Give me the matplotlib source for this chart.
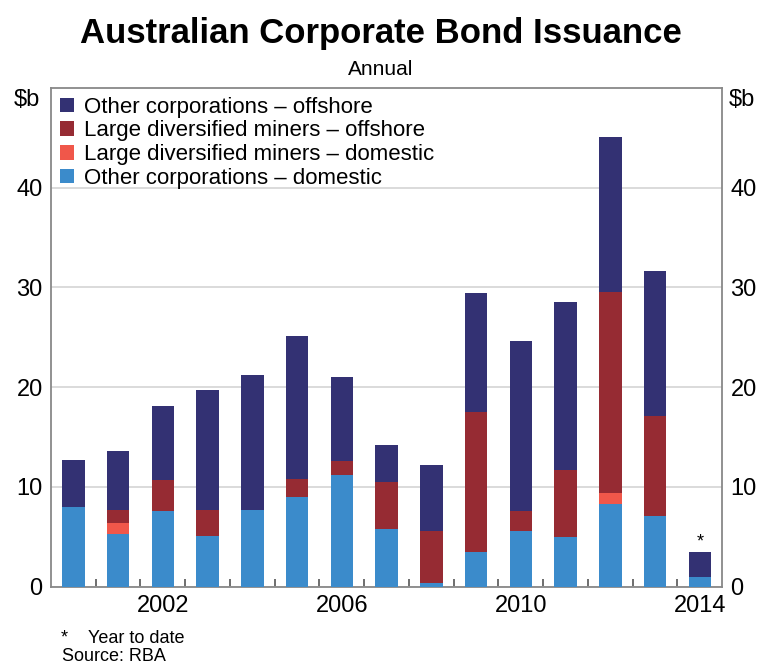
import numpy as np
import matplotlib
matplotlib.use("Agg")
import matplotlib.pyplot as plt
from matplotlib.ticker import FixedLocator, NullFormatter

plt.rcParams['font.family'] = ['Liberation Sans', 'DejaVu Sans']

years = list(range(2000, 2015))
other_dom = [8.0, 5.3, 7.6, 5.1, 7.7, 9.0, 11.2, 5.8, 0.4, 3.5, 5.6, 5.0, 8.3, 7.05, 1.0]
miners_dom = [0, 1.1, 0, 0, 0, 0, 0, 0, 0, 0, 0, 0, 1.05, 0, 0]
miners_off = [0, 1.3, 3.1, 2.6, 0, 1.8, 1.4, 4.7, 5.2, 14.0, 2.0, 6.75, 20.15, 10.05, 0]
other_off = [4.7, 5.9, 7.4, 12.0, 13.5, 14.3, 8.4, 3.7, 6.65, 11.9, 17.05, 16.75, 15.55, 14.5, 2.45]

series = [("Other corporations – domestic", other_dom, "#3b8bcb"),
          ("Large diversified miners – domestic", miners_dom, "#f0574a"),
          ("Large diversified miners – offshore", miners_off, "#962b33"),
          ("Other corporations – offshore", other_off, "#333173")]

fig = plt.figure(figsize=(7.61, 6.66), dpi=100)
ax = fig.add_axes([0.067, 0.119, 0.882, 0.749])
bottom = np.zeros(len(years))
handles = []
for lab, vals, col in series:
    h = ax.bar(years, vals, width=0.5, bottom=bottom, color=col, label=lab, zorder=3)
    handles.append(h)
    bottom += np.array(vals)

# year-to-date marker above the last bar
ax.text(2014, bottom[-1] + 0.2, "*", ha="center", va="bottom", fontsize=13)

ax.set_xlim(1999.5, 2014.5)
ax.set_ylim(0, 50)
ax.set_yticks([0, 10, 20, 30, 40])
ax.yaxis.grid(True, color="#d4d4d4", lw=1.2, zorder=0)
ax.tick_params(axis="y", length=0, labelsize=17, pad=6, left=True, right=True,
               labelleft=True, labelright=True)
ax.set_xticks([2002, 2006, 2010, 2014])
ax.tick_params(axis="x", which="major", length=0, labelsize=17, pad=6)
ax.xaxis.set_minor_locator(FixedLocator(np.arange(2000.5, 2014, 1)))
ax.xaxis.set_minor_formatter(NullFormatter())
ax.tick_params(axis="x", which="minor", direction="in", length=6, color="#555555", width=1.2)
for s in ax.spines.values():
    s.set_color("#888888")
    s.set_linewidth(1.3)

leg = ax.legend(handles[::-1], [s[0] for s in series][::-1], loc="upper left",
                frameon=False, fontsize=16, handlelength=0.65, handleheight=0.65,
                handletextpad=0.45, labelspacing=0.12, borderaxespad=0.0,
                bbox_to_anchor=(0.0, 1.0))

fig.text(0.5, 0.950, "Australian Corporate Bond Issuance", ha="center", va="center",
         fontsize=25, fontweight="bold")
fig.text(0.5, 0.895, "Annual", ha="center", va="center", fontsize=15)
fig.text(0.035, 0.85, "$b", ha="center", va="center", fontsize=17)
fig.text(0.975, 0.85, "$b", ha="center", va="center", fontsize=17)
fig.text(0.085, 0.042, "*", ha="center", va="center", fontsize=13)
fig.text(0.115, 0.042, "Year to date", ha="left", va="center", fontsize=13)
fig.text(0.082, 0.014, "Source: RBA", ha="left", va="center", fontsize=13)

fig.savefig("out.png", dpi=100)
